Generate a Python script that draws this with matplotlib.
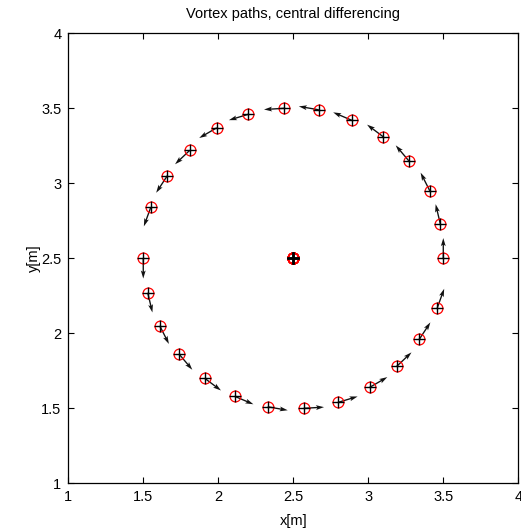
import numpy as np
import matplotlib
matplotlib.use("Agg")
import matplotlib.pyplot as plt

plt.rcParams['font.family'] = ['Liberation Sans', 'DejaVu Sans']

# vortex 1: starts on the right, runs counter-clockwise over the top
x1 = [3.50, 3.48, 3.41, 3.27, 3.10, 2.89, 2.67, 2.44, 2.20, 1.99, 1.81, 1.66, 1.55]
y1 = [2.50, 2.73, 2.95, 3.15, 3.31, 3.42, 3.49, 3.50, 3.46, 3.37, 3.22, 3.05, 2.84]
u1 = [0.000, -0.031, -0.061, -0.087, -0.108, -0.124, -0.133, -0.135, -0.129, -0.117, -0.098, -0.074, -0.046]
v1 = [0.135, 0.131, 0.121, 0.103, 0.081, 0.053, 0.023, -0.008, -0.039, -0.068, -0.093, -0.113, -0.127]

# vortex 2: starts on the left, runs counter-clockwise under the bottom
x2 = [1.50, 1.53, 1.61, 1.74, 1.91, 2.11, 2.33, 2.57, 2.80, 3.01, 3.19, 3.34, 3.46]
y2 = [2.50, 2.27, 2.05, 1.86, 1.70, 1.58, 1.51, 1.50, 1.54, 1.64, 1.78, 1.96, 2.17]
u2 = [0.000, 0.031, 0.061, 0.087, 0.108, 0.124, 0.133, 0.135, 0.129, 0.117, 0.098, 0.074, 0.046]
v2 = [-0.135, -0.131, -0.121, -0.103, -0.081, -0.053, -0.023, 0.008, 0.039, 0.068, 0.093, 0.113, 0.127]

# vortex 3: sits in the middle
x3 = [2.50] * 13
y3 = [2.50] * 13

ticks = [1, 1.5, 2, 2.5, 3, 3.5, 4]

fig = plt.figure(figsize=(5.21, 5.32), dpi=100)
ax = fig.add_axes([0.131, 0.0915, 0.8638, 0.8459])

xs = np.concatenate([x1, x2, x3])
ys = np.concatenate([y1, y2, y3])
us = np.concatenate([u1, u2, np.zeros(len(x3))])
vs = np.concatenate([v1, v2, np.zeros(len(x3))])

ax.quiver(xs, ys, us, vs, angles='xy', scale_units='xy', scale=1,
          color='#111111', width=0.003, headwidth=3.6, headlength=6, headaxislength=5,
          zorder=2)
ax.plot(xs, ys, 'o', mfc='none', mec='red', ms=7.8, mew=0.9, zorder=3)
ax.plot(xs, ys, '+', color='black', ms=8, mew=1.0, zorder=4)

ax.set_xlim(1, 4)
ax.set_ylim(1, 4)
ax.set_xticks(ticks)
ax.set_yticks(ticks)
ax.set_xticklabels(['1', '1.5', '2', '2.5', '3', '3.5', '4'])
ax.set_yticklabels(['1', '1.5', '2', '2.5', '3', '3.5', '4'])
ax.tick_params(direction='in', length=4, width=0.8, labelsize=10.5,
               top=True, right=True, pad=5)
for s in ax.spines.values():
    s.set_linewidth(0.9)

ax.set_title('Vortex paths, central differencing', fontsize=10.5, pad=11)
ax.set_xlabel('x[m]', fontsize=10.5, labelpad=7)
ax.set_ylabel('y[m]', fontsize=10.5, labelpad=0)

fig.savefig('out.png', dpi=100)
